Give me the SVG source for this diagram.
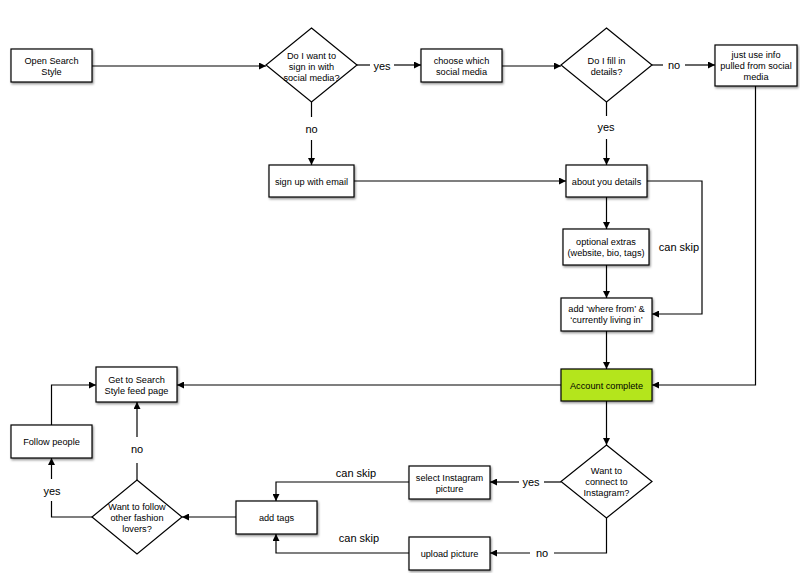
<svg xmlns="http://www.w3.org/2000/svg" width="800" height="573" viewBox="0 0 800 573">
<defs>
<filter id="sh" x="-10%" y="-10%" width="130%" height="140%">
<feDropShadow dx="1" dy="1.5" stdDeviation="0.8" flood-color="#000" flood-opacity="0.45"/>
</filter>
<marker id="ah" viewBox="0 0 10 10" refX="10" refY="5" markerWidth="8" markerHeight="7" markerUnits="userSpaceOnUse" orient="auto">
<path d="M0,0 L10,5 L0,10 z" fill="#000"/>
</marker>
<style>
.box{fill:#fff;stroke:#000;stroke-width:1.2;filter:url(#sh)}
.dia{fill:#fff;stroke:#000;stroke-width:1.2}
.t{font-family:"Liberation Sans",Arial,sans-serif;font-size:9.2px;fill:#000;text-anchor:middle}
.lbl{font-family:"Liberation Sans",Arial,sans-serif;font-size:11px;fill:#000;text-anchor:middle}
.c{fill:none;stroke:#000;stroke-width:1.2}
.ca{fill:none;stroke:#000;stroke-width:1.2;marker-end:url(#ah)}
</style>
</defs>
<rect width="800" height="573" fill="#fff"/>

<g id="connectors">
<path class="ca" d="M92,66 H266"/>
<path class="c" d="M357,65 H370"/>
<path class="ca" d="M394,65 H421"/>
<path class="ca" d="M502,66 H561"/>
<path class="c" d="M652,65 H663"/>
<path class="ca" d="M685,65 H715"/>
<path class="c" d="M311.5,102 V117"/>
<path class="ca" d="M311.5,140 V165"/>
<path class="c" d="M606.5,102 V116"/>
<path class="ca" d="M606.5,139 V165"/>
<path class="ca" d="M354,181 H566"/>
<path class="ca" d="M647,181 H702 V314 H652"/>
<path class="ca" d="M606.5,197 V229"/>
<path class="ca" d="M606.5,265 V298"/>
<path class="ca" d="M606.5,331 V369"/>
<path class="ca" d="M755.5,86 V385 H652"/>
<path class="ca" d="M561,385 H177"/>
<path class="ca" d="M606.5,401 V445"/>
<path class="c" d="M561,482 H544"/>
<path class="ca" d="M519,482 H490"/>
<path class="c" d="M606.5,518 V553 H554"/>
<path class="ca" d="M530,553 H490"/>
<path class="ca" d="M409,482 H276 V501"/>
<path class="ca" d="M409,553 H276 V534"/>
<path class="ca" d="M236,517 H182"/>
<path class="c" d="M137,480 V463"/>
<path class="ca" d="M137,437 V402"/>
<path class="c" d="M92,517 H51.5 V501"/>
<path class="ca" d="M51.5,479 V458"/>
<path class="ca" d="M51.5,425 V385 H96"/>
<text class="lbl" x="382" y="69.5">yes</text>
<text class="lbl" x="674" y="69">no</text>
<text class="lbl" x="311.5" y="132.5">no</text>
<text class="lbl" x="606" y="131">yes</text>
<text class="lbl" x="679" y="251">can skip</text>
<text class="lbl" x="531" y="486">yes</text>
<text class="lbl" x="542" y="557">no</text>
<text class="lbl" x="356" y="477">can skip</text>
<text class="lbl" x="359" y="542">can skip</text>
<text class="lbl" x="137" y="453">no</text>
<text class="lbl" x="52" y="495">yes</text>
</g>

<g id="open-search-style">
<rect class="box" x="11" y="49" width="81" height="33"/>
<text class="t" x="51.5" y="64">Open Search</text>
<text class="t" x="51.5" y="75">Style</text>
</g>
<g id="sign-in-social">
<polygon class="dia" points="311.5,28 357,65 311.5,102 266,65"/>
<text class="t" x="311.5" y="58.5">Do I want to</text>
<text class="t" x="311.5" y="69.5">sign in with</text>
<text class="t" x="311.5" y="80.5">social media?</text>
</g>
<g id="choose-social">
<rect class="box" x="421" y="49" width="81" height="33"/>
<text class="t" x="461.5" y="64">choose which</text>
<text class="t" x="461.5" y="75">social media</text>
</g>
<g id="fill-details">
<polygon class="dia" points="606.5,28 652,65 606.5,102 561,65"/>
<text class="t" x="606.5" y="64">Do I fill in</text>
<text class="t" x="606.5" y="75">details?</text>
</g>
<g id="just-use-info">
<rect class="box" x="715" y="45" width="82" height="41"/>
<text class="t" x="756" y="58">just use info</text>
<text class="t" x="756" y="69">pulled from social</text>
<text class="t" x="756" y="80">media</text>
</g>
<g id="sign-up-email">
<rect class="box" x="269" y="165" width="85" height="32"/>
<text class="t" x="311.5" y="184.5">sign up with email</text>
</g>
<g id="about-you">
<rect class="box" x="566" y="165" width="81" height="32"/>
<text class="t" x="606.5" y="184.5">about you details</text>
</g>
<g id="optional-extras">
<rect class="box" x="563" y="229" width="86" height="36"/>
<text class="t" x="606" y="245">optional extras</text>
<text class="t" x="606" y="256">(website, bio, tags)</text>
</g>
<g id="where-from">
<rect class="box" x="561" y="298" width="91" height="33"/>
<text class="t" x="606.5" y="312">add ‘where from’ &amp;</text>
<text class="t" x="606.5" y="323">‘currently living in’</text>
</g>
<g id="account-complete">
<rect class="box" x="561" y="369" width="91" height="32" style="fill:#b4e51d"/>
<text class="t" x="606.5" y="388.5">Account complete</text>
</g>
<g id="feed-page">
<rect class="box" x="96" y="367" width="81" height="35"/>
<text class="t" x="136.5" y="383">Get to Search</text>
<text class="t" x="136.5" y="394">Style feed page</text>
</g>
<g id="follow-people">
<rect class="box" x="11" y="425" width="81" height="33"/>
<text class="t" x="51.5" y="445">Follow people</text>
</g>
<g id="want-follow">
<polygon class="dia" points="137,480 182,517 137,554 92,517"/>
<text class="t" x="137" y="510">Want to follow</text>
<text class="t" x="137" y="521">other fashion</text>
<text class="t" x="137" y="532">lovers?</text>
</g>
<g id="add-tags">
<rect class="box" x="236" y="501" width="81" height="33"/>
<text class="t" x="276.5" y="521">add tags</text>
</g>
<g id="select-instagram">
<rect class="box" x="409" y="466" width="81" height="33"/>
<text class="t" x="449.5" y="481">select Instagram</text>
<text class="t" x="449.5" y="492">picture</text>
</g>
<g id="upload-picture">
<rect class="box" x="409" y="537" width="81" height="33"/>
<text class="t" x="449.5" y="557">upload picture</text>
</g>
<g id="connect-instagram">
<polygon class="dia" points="606.5,445 652,481.5 606.5,518 561,481.5"/>
<text class="t" x="606.5" y="474">Want to</text>
<text class="t" x="606.5" y="485">connect to</text>
<text class="t" x="606.5" y="496">Instagram?</text>
</g>
</svg>
